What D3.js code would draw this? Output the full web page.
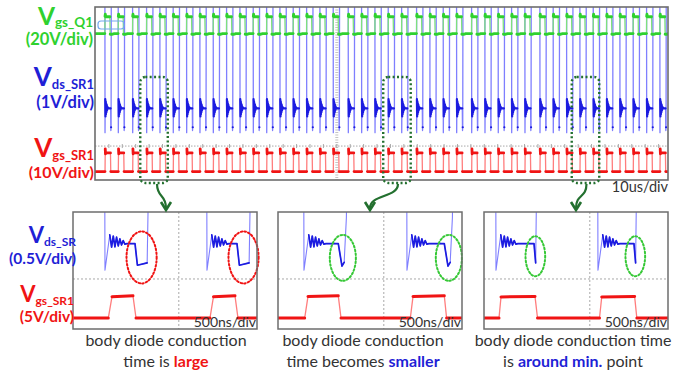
<!DOCTYPE html>
<html>
<head>
<meta charset="utf-8">
<script src="https://cdn.jsdelivr.net/npm/d3@7"></script>
<style>
  body { margin: 0; background: #fff; }
  svg { display: block; }
  text { font-family: Lato, "Open Sans", sans-serif; }
</style>
</head>
<body>
<svg id="chart" width="684" height="377"></svg>
<script>
// ---------- overview capture (10 us/div) ----------
// start of each switching cycle, us
const cycleStartsUs = [1.75, 4.07, 6.58, 9.02, 11.34, 13.66, 16.0, 18.32, 20.65, 22.98,
  25.31, 27.63, 29.97, 32.29, 34.61, 36.95, 39.27, 41.59, 44.21, 46.54,
  48.87, 51.19, 53.53, 56.14, 58.46, 60.79, 63.12, 65.74, 68.06, 70.38,
  72.72, 75.04, 77.66, 79.98, 82.32, 84.64, 86.97, 89.3, 91.62, 93.94,
  96.28, 98.6];
// one cycle of Vgs_Q1: offset from cycle start (us), level (V)
const vgsQ1OffsetUs = [-0.03, 0, 0.05, 0.12, 0.85, 0.9, 1.3, 1.6];
const vgsQ1V        = [0, 16, 18, 15.6, 15.6, -0.6, -0.6, 0];
// one cycle of Vds_SR1 (off-state is far above the screen)
const vdsSr1OffsetUs = [-0.02, 0, 0.04, 0.08, 0.12, 0.16, 0.2, 0.25, 0.3, 0.36, 0.45, 0.6, 0.98, 1.02, 1.06, 1.09];
const vdsSr1V        = [5, -1.2, 0.35, -0.45, 0.25, -0.35, 0.15, -0.25, 0.08, -0.15, -0.02, -0.08, -0.08, -1.1, -0.95, 5];
// one cycle of Vgs_SR1
const vgsSr1OffsetUs = [0, 0.04, 0.08, 0.15, 0.95, 1.0];
const vgsSr1V        = [0, 10.5, 8.2, 8.6, 8.6, 0];
// windows expanded below, us
const zoomWindowsUs = [[7.9, 12.7], [50.3, 55.1], [83.2, 88.0]];

// ---------- expanded captures (500 ns/div) ----------
const captions = [
  ["body diode conduction", "time is ", "large", ""],
  ["body diode conduction", "time becomes ", "smaller", ""],
  ["body diode conduction time", "is ", "around min.", " point"]
];
// SR turn-on instants (ns) and end of channel conduction (ns)
const vdsFallNs = [[869, 3641], [706, 3505], [326, 3097]];
const vdsPlateauEndNs = [[1685, 4456], [1638, 4519], [1359, 4075]];
// turn-on ringing of Vds_SR, offset from turn-on (ns) and level (V)
const ringOffsetNs = [0, 130, 180, 225, 270, 315, 360, 405, 450, 495, 540, 600];
const ringV        = [-0.99, 0.22, -0.2, 0.18, -0.19, 0.14, -0.16, 0.08, -0.13, 0.02, -0.1, -0.08];
// body diode interval after channel turn-off, offset (ns) and level (V)
const diodeOffsetNs = [[0, 65, 330, 395], [0, 100, 160, 220, 260], [0, 45, 90]];
const diodeV        = [[-0.08, -0.82, -0.74, 4], [-0.08, -0.85, -0.72, 0.8, 4], [-0.08, -0.74, 4]];
const vdsOffV = 4;
// Vgs_SR1 gate pulses
const gateNs = [
  [0, 959, 1060, 1630, 1712, 3722, 3817, 4402, 4483, 5000],
  [0, 725, 815, 1638, 1712, 3596, 3669, 4519, 4581, 5000],
  [0, 408, 462, 1386, 1454, 3139, 3199, 4093, 4153, 5000]
];
const gateV = [
  [0, 0, 7.3, 7.6, 0, 0, 7.3, 7.6, 0, 0],
  [0, 0, 7.4, 7.6, 0, 0, 7.4, 7.6, 0, 0],
  [0, 0, 7.2, 7.4, 0, 0, 7.2, 7.4, 0, 0]
];

// ---------- drawing ----------
const svg = d3.select("#chart");
const C = {
  green: "#2fd12f", greenLight: "#7ee07e",
  blue: "#1c1ce0", blueLight: "#7f7fff", blueLabel: "#1f1fd6",
  red: "#f01414", redLight: "#ff7d7d",
  frame: "#6d6d6d", grid: "#a8a8a8", annot: "#23702f", text: "#333"
};

// draw a trace: thin light stroke for the whole path, heavy stroke where it settles
function drawTrace(g, pts, x, y, bands, light, dark, lw, dw) {
  const line = d3.line().x(d => x(d.t)).y(d => y(d.v));
  g.append("path").attr("d", line(pts)).attr("fill", "none")
    .attr("stroke", light).attr("stroke-width", lw).attr("stroke-linejoin", "round");
  bands.forEach(([lo, hi]) => {
    g.append("path").attr("d", line.defined(d => d.v >= lo && d.v <= hi)(pts))
      .attr("fill", "none").attr("stroke", dark).attr("stroke-width", dw)
      .attr("stroke-linejoin", "round").attr("stroke-linecap", "round");
  });
}
function tile(starts, offT, offV, rest, t0, t1) {
  const pts = [{t: t0, v: rest}];
  starts.forEach(s => offT.forEach((dt, i) => pts.push({t: s + dt, v: offV[i]})));
  pts.push({t: t1, v: rest});
  return pts;
}

// ----- overview panel -----
const P = {x0: 95, x1: 668, y0: 7, y1: 180};
const xT = d3.scaleLinear().domain([0, 100]).range([P.x0, P.x1]);
const divT = d3.scaleLinear().domain([0, 8]).range([P.y1, P.y0]);
svg.append("clipPath").attr("id", "clipTop").append("rect")
  .attr("x", P.x0).attr("y", P.y0).attr("width", P.x1 - P.x0).attr("height", P.y1 - P.y0);
const gT = svg.append("g");
// graticule
const gridT = gT.append("g");
gridT.append("line").attr("x1", xT(42.2)).attr("x2", xT(42.2)).attr("y1", P.y0).attr("y2", P.y1)
  .attr("stroke", "#c4c4c4").attr("stroke-width", 3).attr("stroke-dasharray", "1,1.5");
gridT.append("line").attr("x1", P.x0).attr("x2", P.x1).attr("y1", divT(1.57)).attr("y2", divT(1.57))
  .attr("stroke", C.grid).attr("stroke-width", 1).attr("stroke-dasharray", "1.5,1.5");
d3.range(-18, 26).map(k => 42.2 + k * 2.34).filter(t => t > 0.5 && t < 99.5).forEach(t => {
  gridT.append("line").attr("x1", xT(t)).attr("x2", xT(t))
    .attr("y1", divT(1.57) - 2).attr("y2", divT(1.57) + 2).attr("stroke", C.grid);
});
const trT = gT.append("g").attr("clip-path", "url(#clipTop)");
drawTrace(trT, tile(cycleStartsUs, vgsSr1OffsetUs, vgsSr1V, 0, 0, 100), xT,
  v => divT(0.39 + v / 10), [[-2, 2], [6.5, 11]], C.redLight, C.red, 1.3, 2.8);
drawTrace(trT, tile(cycleStartsUs, vdsSr1OffsetUs, vdsSr1V, 5, 0, 100), xT,
  v => divT(3.39 + v / 1), [[-1.0, 0.6]], C.blueLight, C.blue, 1.3, 2.2);
drawTrace(trT, tile(cycleStartsUs, vgsQ1OffsetUs, vgsQ1V, 0, 0, 100), xT,
  v => divT(6.77 + v / 20), [[-2, 2.5], [13, 19]], C.greenLight, C.green, 1.3, 2.8);
// channel marker
gT.append("rect").attr("x", 98).attr("y", 21).attr("width", 26).attr("height", 8).attr("rx", 3)
  .attr("fill", "none").attr("stroke", "#74a8f0").attr("stroke-width", 1.2);
gT.append("rect").attr("x", P.x0).attr("y", P.y0).attr("width", P.x1 - P.x0).attr("height", P.y1 - P.y0)
  .attr("fill", "none").attr("stroke", C.frame).attr("stroke-width", 1.6);
gT.append("text").attr("x", P.x1).attr("y", 192).attr("text-anchor", "end")
  .attr("font-size", 14.5).attr("fill", C.text).text("10us/div");

// ----- expanded panels -----
const panels = [{x0: 73, x1: 257}, {x0: 278, x1: 462}, {x0: 484, x1: 668}];
const PY0 = 212, PY1 = 329;
const captionX = [166, 363, 573];
const ringColor = [C.red, "#36c836", "#36c836"];
const ellipseRy = [26, 23, 20];

panels.forEach((p, i) => {
  const x = d3.scaleLinear().domain([0, 5000]).range([p.x0, p.x1]);
  const dv = d3.scaleLinear().domain([0, 8]).range([PY1, PY0]);
  const g = svg.append("g");
  svg.append("clipPath").attr("id", "clip" + i).append("rect")
    .attr("x", p.x0).attr("y", PY0).attr("width", p.x1 - p.x0).attr("height", PY1 - PY0);
  // crosshair
  g.append("line").attr("x1", x(2875)).attr("x2", x(2875)).attr("y1", PY0).attr("y2", PY1)
    .attr("stroke", C.grid).attr("stroke-dasharray", "2,2");
  g.append("line").attr("x1", p.x0).attr("x2", p.x1).attr("y1", dv(3.42)).attr("y2", dv(3.42))
    .attr("stroke", C.grid).attr("stroke-dasharray", "2,2");
  const tr = g.append("g").attr("clip-path", "url(#clip" + i + ")");
  // gate drive, 5 V/div
  const gatePts = gateNs[i].map((t, k) => ({t, v: gateV[i][k]}));
  drawTrace(tr, gatePts, x, v => dv(0.75 + v / 5), [[-1, 1.5], [5.5, 9]], C.redLight, C.red, 1.3, 3);
  // drain-source, 0.5 V/div
  const vds = [{t: 0, v: vdsOffV}];
  vdsFallNs[i].forEach((tf, c) => {
    vds.push({t: tf - 10, v: vdsOffV});
    ringOffsetNs.forEach((dt, k) => vds.push({t: tf + dt, v: ringV[k]}));
    const tp = vdsPlateauEndNs[i][c];
    diodeOffsetNs[i].forEach((dt, k) => vds.push({t: tp + dt, v: diodeV[i][k]}));
  });
  vds.push({t: 5000, v: vdsOffV});
  const yB = v => dv(6.0 + v / 0.5);
  drawTrace(tr, vds, x, yB, [[-0.9, 0.35]], C.blueLight, C.blue, 1.1, 1.7);
  // body diode markers
  vdsPlateauEndNs[i].forEach(tp => {
    const offs = diodeOffsetNs[i];
    const xa = x(tp), xb = x(tp + offs[offs.length - 2]);
    const vmin = d3.min(diodeV[i]);
    g.append("ellipse").attr("cx", (xa + xb) / 2 + 0.5).attr("cy", (yB(-0.08) + yB(vmin)) / 2 + 3)
      .attr("rx", (xb - xa) / 2 + 9).attr("ry", ellipseRy[i])
      .attr("fill", "none").attr("stroke", ringColor[i]).attr("stroke-width", 2)
      .attr("stroke-dasharray", "1.6,2.2").attr("stroke-linecap", "round");
  });
  g.append("rect").attr("x", p.x0).attr("y", PY0).attr("width", p.x1 - p.x0).attr("height", PY1 - PY0)
    .attr("fill", "none").attr("stroke", C.frame).attr("stroke-width", 1.5);
  g.append("text").attr("x", p.x1 - 1).attr("y", 327).attr("text-anchor", "end")
    .attr("font-size", 14).attr("fill", C.text).text("500ns/div");
  // captions
  const cap = captions[i];
  g.append("text").attr("x", captionX[i]).attr("y", 346).attr("text-anchor", "middle")
    .attr("font-size", 16).attr("fill", C.text).text(cap[0]);
  const t2 = g.append("text").attr("x", captionX[i]).attr("y", 367).attr("text-anchor", "middle")
    .attr("font-size", 16).attr("fill", C.text);
  t2.append("tspan").text(cap[1]);
  t2.append("tspan").attr("font-weight", "bold").attr("fill", i === 0 ? C.red : C.blueLabel).text(cap[2]);
  if (cap[3]) t2.append("tspan").text(cap[3]);
});

// zoom windows and arrows
zoomWindowsUs.forEach(([a, b], i) => {
  svg.append("rect").attr("x", xT(a)).attr("y", 77).attr("width", xT(b) - xT(a)).attr("height", 106)
    .attr("rx", 5).attr("fill", "none").attr("stroke", C.annot).attr("stroke-width", 2.4)
    .attr("stroke-dasharray", "2,2.4");
  const sx = xT((a + b) / 2) + (i === 0 ? 3 : 1), tx = (panels[i].x0 + panels[i].x1) / 2 + (i === 0 ? 1 : 0);
  svg.append("path").attr("d", `M${sx},184 C${sx},198 ${tx},194 ${tx},208`)
    .attr("fill", "none").attr("stroke", C.annot).attr("stroke-width", 2.2);
  svg.append("path").attr("d", `M${tx - 5},202 L${tx},210 L${tx + 5},202`)
    .attr("fill", "none").attr("stroke", C.annot).attr("stroke-width", 2.6).attr("stroke-linejoin", "miter");
});

// channel labels
function label(xr, yMain, main, sub, scale, color, big, subSize, scaleSize, gap) {
  const t = svg.append("text").attr("x", xr).attr("y", yMain).attr("text-anchor", "end")
    .attr("font-weight", "bold").attr("fill", color);
  t.append("tspan").attr("font-size", big).text(main);
  t.append("tspan").attr("font-size", subSize).attr("dy", 2.5).text(sub);
  svg.append("text").attr("x", xr).attr("y", yMain + gap).attr("text-anchor", "end")
    .attr("font-weight", "bold").attr("font-size", scaleSize).attr("fill", color).text(scale);
}
label(93, 24.5, "V", "gs_Q1", "(20V/div)", C.green, 24.5, 13.5, 16.5, 20.5);
label(94, 86, "V", "ds_SR1", "(1V/div)", C.blueLabel, 26, 13, 16.5, 22);
label(94, 157, "V", "gs_SR1", "(10V/div)", C.red, 26, 13, 16, 20.5);
label(76, 243, "V", "ds_SR", "(0.5V/div)", C.blueLabel, 22, 12, 15.5, 21);
label(74, 302, "V", "gs_SR1", "(5V/div)", C.red, 22, 12, 15.5, 19.5);
</script>
</body>
</html>
